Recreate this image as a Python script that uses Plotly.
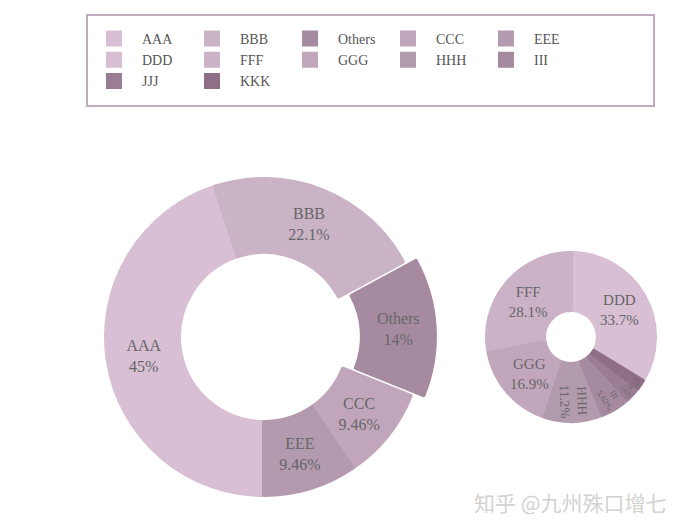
import plotly.graph_objects as go

# ---- data ----
left_labels = ["AAA", "BBB", "Others", "CCC", "EEE"]
left_values = [45, 22.1, 14, 9.46, 9.46]
left_colors = ["#d8bfd4", "#cbb3c6", "#a68ba0", "#c1a6bb", "#b39aae"]
left_pull = [0, 0, 0.082, 0, 0]

right_labels = ["DDD", "FFF", "GGG", "HHH", "III", "JJJ", "KKK"]
right_values = [33.7, 28.1, 16.9, 11.2, 5.62, 2.81, 1.69]
right_colors = ["#d8bfd4", "#cbb2c6", "#c2a7bc", "#b39bae", "#a68aa0", "#9b7d93", "#8f6e87"]

watermark = "知乎 @九州殊口增七"

# ---- layout geometry (pixels) ----
W, H = 680, 528
ML, MR, MT, MB = 86, 12, 0, 0
GW = W - ML - MR
GH = H - MT - MB


def px_x(x):
    return (x - ML) / GW


def px_y(y):
    return 1 - (y - MT) / GH


def dom(cx, cy, half):
    return dict(x=[px_x(cx - half), px_x(cx + half)],
                y=[px_y(cy + half), px_y(cy - half)])


SERIF = "Liberation Serif, Times New Roman, serif"
TXT = "#666666"
LW = 4  # slice outline in own colour (also sizes the legend swatches)

fig = go.Figure()

fig.add_trace(go.Pie(
    labels=left_labels, values=left_values,
    marker=dict(colors=left_colors, line=dict(width=LW, color=left_colors)),
    pull=left_pull, hole=0.538, sort=False,
    direction="clockwise", rotation=180,
    domain=dom(264, 337, 158 * (1 + max(left_pull))),
    texttemplate="%{label}<br>%{percent}", textposition="inside",
    insidetextorientation="horizontal",
    textfont=dict(family=SERIF, size=16, color=TXT),
    hoverinfo="label+percent",
))

fig.add_trace(go.Pie(
    labels=right_labels, values=right_values,
    marker=dict(colors=right_colors, line=dict(width=LW, color=right_colors)),
    hole=0.32, sort=False,
    direction="counterclockwise", rotation=0,
    domain=dom(571, 337, 84),
    texttemplate="%{label}<br>%{percent}", textposition="inside",
    insidetextorientation="auto",
    textfont=dict(family=SERIF, size=15, color=TXT),
    hoverinfo="label+percent",
))

fig.update_layout(
    width=W, height=H,
    margin=dict(l=ML, r=MR, t=MT, b=MB),
    paper_bgcolor="white", plot_bgcolor="white",
    showlegend=True,
    legend=dict(
        orientation="h", x=0, xanchor="left",
        y=px_y(23), yanchor="top",
        entrywidth=37, entrywidthmode="pixels", itemwidth=46,
        font=dict(family=SERIF, size=14, color="#555555"),
        bgcolor="rgba(0,0,0,0)", traceorder="normal",
    ),
    shapes=[dict(
        type="rect", xref="paper", yref="paper",
        x0=px_x(87), x1=px_x(654), y0=px_y(106), y1=px_y(15),
        line=dict(color="#c3abbf", width=2), fillcolor="rgba(0,0,0,0)",
    )],
    annotations=[dict(
        text=watermark, xref="paper", yref="paper",
        x=px_x(570), y=px_y(502), xanchor="center", yanchor="middle",
        showarrow=False,
        font=dict(family="Noto Sans CJK SC", size=21, color="#d2d2d2"),
    )],
)

fig.write_html("out.html")
